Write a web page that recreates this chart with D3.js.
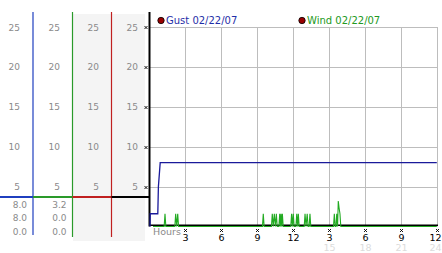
<!DOCTYPE html>
<html>
<head>
<meta charset="utf-8">
<script src="https://cdn.jsdelivr.net/npm/d3@7/dist/d3.min.js"></script>
<style>
  body { margin: 0; background: #fff; }
  svg { display: block; font-family: "DejaVu Sans", Verdana, sans-serif; }
</style>
</head>
<body>
<div id="chart"></div>
<script>
// y ticks shared by the four left columns and the plot
const yTicks = [5, 10, 15, 20, 25];
// x ticks (hours) and the two label rows under them
const xTicks = [3, 6, 9, 12, 15, 18, 21, 24];
const xLabels = ["3", "6", "9", "12", "3", "6", "9", "12"];
const xLabels24 = ["", "", "", "", "15", "18", "21", "24"];

// summary values under the colored rule
const gustStats = ["8.0", "8.0", "0.0"];
const windStats = ["3.2", "0.0", "0.0"];

// gust series (hours, mph)
const gustHours = [0, 0.02, 0.65, 0.7, 0.85, 23.9];
const gustValues = [0, 1.6, 1.6, 5.0, 8.0, 8.0];

// wind series (hours, mph)
const windHours = [0.25, 1.18, 1.25, 1.32, 2.07, 2.14, 2.22, 2.31, 2.38,
  9.37, 9.44, 9.51, 10.12, 10.19, 10.27, 10.36, 10.45, 10.53, 10.6,
  10.74, 10.81, 10.87, 10.92, 10.97, 11.03, 11.1,
  11.73, 11.8, 11.87, 11.94, 12.01, 12.16, 12.23, 12.3, 12.36, 12.43,
  12.85, 12.92, 13.0, 13.1, 13.17, 13.26, 13.33, 13.4,
  15.29, 15.36, 15.43, 15.5, 15.56, 15.63, 15.69, 15.75, 15.83, 15.9, 23.9];
const windValues = [0, 0, 1.6, 0, 0, 1.6, 0, 1.6, 0,
  0, 1.6, 0, 0, 1.6, 0, 1.6, 0, 1.6, 0,
  0, 1.6, 0, 1.6, 0, 1.6, 0,
  0, 1.6, 0, 1.6, 0, 0, 1.6, 0, 1.6, 0,
  0, 1.6, 0, 1.6, 0, 0, 1.6, 0,
  0, 1.6, 0, 0, 1.6, 0, 3.2, 2.4, 1.6, 0, 0];

const width = 442, height = 253;

const svg = d3.select("#chart")
    .append("svg")
    .attr("width", width)
    .attr("height", height);

// scales
const x = d3.scaleLinear().domain([0, 24]).range([150, 438]);
const y = d3.scaleLinear().domain([0, 25]).range([226.5, 27]);

// left columns: label right edge, separator line x, color
const cols = [
    { right: 20, line: 33, color: "#1f3fbf", start: 0 },
    { right: 60, line: 72.5, color: "#2a9a2a", start: 33 },
    { right: 99, line: 111.5, color: "#c02020", start: 72.5 },
    { right: 138, line: 149.5, color: "#000", start: 111.5 }
];

// grey background behind columns 3 and 4
svg.append("rect")
    .attr("x", 73).attr("y", 14)
    .attr("width", 72).attr("height", 227)
    .attr("fill", "#f4f4f4");

// column tick labels
cols.forEach(c => {
    svg.append("g")
        .selectAll("text")
        .data(yTicks)
        .enter()
        .append("text")
        .attr("x", c.right)
        .attr("y", d => y(d) + 3.5)
        .attr("text-anchor", "end")
        .style("font-size", "9px")
        .attr("fill", "#8a8a8a")
        .text(d => d);
});

// colored separator lines
cols.slice(0, 3).forEach(c => {
    svg.append("line")
        .attr("x1", c.line).attr("x2", c.line)
        .attr("y1", 12).attr("y2", c.line < 40 ? 235 : 237)
        .attr("stroke", c.color)
        .attr("stroke-width", 1.2);
});

// colored horizontal rule
cols.forEach(c => {
    svg.append("line")
        .attr("x1", c.start).attr("x2", c.line)
        .attr("y1", 197).attr("y2", 197)
        .attr("stroke", c.color)
        .attr("stroke-width", 2);
});

// stats under the rule
[[gustStats, 27], [windStats, 66.5]].forEach(([vals, right]) => {
    svg.append("g")
        .selectAll("text")
        .data(vals)
        .enter()
        .append("text")
        .attr("x", right)
        .attr("y", (d, i) => 207.5 + i * 13.7)
        .attr("text-anchor", "end")
        .style("font-size", "9px")
        .attr("fill", "#8a8a8a")
        .text(d => d);
});

// grid
const grid = svg.append("g").attr("stroke", "#bdbdbd").attr("stroke-width", 1);
grid.selectAll(".h")
    .data(yTicks)
    .enter()
    .append("line")
    .attr("x1", x(0)).attr("x2", x(24))
    .attr("y1", d => Math.round(y(d)) + 0.5)
    .attr("y2", d => Math.round(y(d)) + 0.5);
grid.selectAll(".v")
    .data(xTicks)
    .enter()
    .append("line")
    .attr("x1", d => Math.round(x(d)) - 0.5)
    .attr("x2", d => Math.round(x(d)) - 0.5)
    .attr("y1", y(25)).attr("y2", y(0));

// black axes
svg.append("line")
    .attr("x1", 149.5).attr("x2", 149.5)
    .attr("y1", 12).attr("y2", 226.5)
    .attr("stroke", "#000").attr("stroke-width", 2);
svg.append("line")
    .attr("x1", 149).attr("x2", x(24))
    .attr("y1", 225.2).attr("y2", 225.2)
    .attr("stroke", "#000").attr("stroke-width", 1.6);

// small x markers
function marker(g, cx, cy) {
    g.append("path")
        .attr("d", `M${cx - 1.5},${cy - 1.5}L${cx + 1.5},${cy + 1.5}M${cx + 1.5},${cy - 1.5}L${cx - 1.5},${cy + 1.5}`)
        .attr("stroke", "#000")
        .attr("stroke-width", 0.9)
        .attr("fill", "none");
}
const marks = svg.append("g");
yTicks.forEach(d => marker(marks, 146, Math.round(y(d)) + 0.5));
xTicks.forEach(d => marker(marks, Math.round(x(d)) - 0.5, 230.5));

// x labels (last one nudged in so it stays inside the frame)
const labelX = d => Math.min(x(d) - 0.5, 435.5);
svg.append("g")
    .selectAll("text")
    .data(xTicks)
    .enter()
    .append("text")
    .attr("x", labelX)
    .attr("y", 241)
    .attr("text-anchor", "middle")
    .style("font-size", "9.5px")
    .attr("fill", "#000")
    .text((d, i) => xLabels[i]);
svg.append("g")
    .selectAll("text")
    .data(xTicks)
    .enter()
    .append("text")
    .attr("x", labelX)
    .attr("y", 251)
    .attr("text-anchor", "middle")
    .style("font-size", "9.5px")
    .attr("fill", "#dcdcdc")
    .text((d, i) => xLabels24[i]);
svg.append("text")
    .attr("x", 153).attr("y", 235)
    .style("font-size", "9.5px")
    .attr("fill", "#8a8a8a")
    .text("Hours");

// series lines
const gustData = gustHours.map((h, i) => ({ h: h, v: gustValues[i] }));
const windData = windHours.map((h, i) => ({ h: h, v: windValues[i] }));
const line = d3.line().x(d => x(d.h)).y(d => y(d.v));

svg.append("path")
    .datum(windData)
    .attr("fill", "none")
    .attr("stroke", "#22aa22")
    .attr("stroke-width", 1.1)
    .attr("d", line);

svg.append("path")
    .datum(gustData)
    .attr("fill", "none")
    .attr("stroke", "#1a1a9a")
    .attr("stroke-width", 1.3)
    .attr("d", line);

// legend
const legend = [
    { label: "Gust 02/22/07", color: "#1f2fa8", x: 161 },
    { label: "Wind 02/22/07", color: "#229922", x: 302 }
];
legend.forEach(l => {
    svg.append("circle")
        .attr("cx", l.x).attr("cy", 20.5).attr("r", 3.2)
        .attr("fill", "#990000")
        .attr("stroke", "#000").attr("stroke-width", 0.8);
    svg.append("text")
        .attr("x", l.x + 5).attr("y", 24)
        .style("font-size", "10px")
        .attr("fill", l.color)
        .text(l.label);
});
</script>
</body>
</html>
